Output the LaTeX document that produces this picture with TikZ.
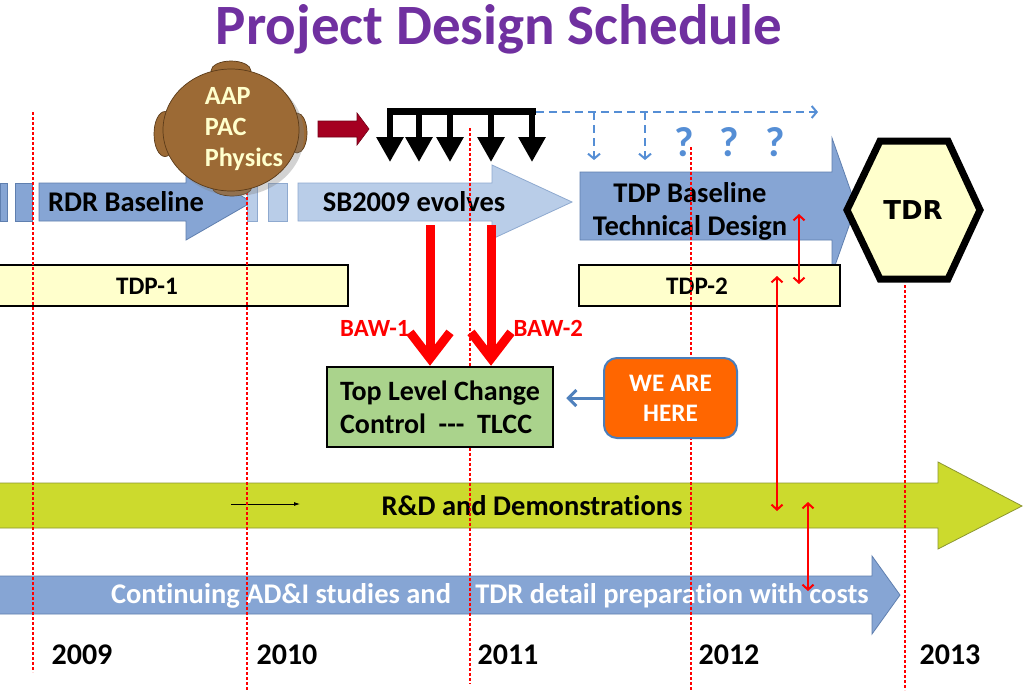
\documentclass[tikz,border=0pt]{standalone}
\usepackage{fontspec}
\setmainfont{Carlito}[Ligatures=NoCommon]
\newfontfamily\tdrfont{DejaVu Sans}
\usetikzlibrary{arrows.meta,shadows,shapes.geometric}
\definecolor{titlepurple}{HTML}{7030A0}
\definecolor{arrowblue}{HTML}{86A5D4}
\definecolor{arrowblueline}{HTML}{5F7FAF}
\definecolor{arrowlight}{HTML}{B9CDE8}
\definecolor{arrowlightline}{HTML}{8EA9CF}
\definecolor{rdgreen}{HTML}{CCDA2D}
\definecolor{rdgreenline}{HTML}{8C9630}
\definecolor{paleyellow}{HTML}{FFFFCC}
\definecolor{tlccgreen}{HTML}{AAD38C}
\definecolor{hereorange}{HTML}{FF6600}
\definecolor{hereline}{HTML}{4A7EBB}
\definecolor{pointblue}{HTML}{4F81BD}
\definecolor{qblue}{HTML}{558ED5}
\definecolor{headbrown}{HTML}{9C6A35}
\definecolor{headline}{HTML}{5A3A18}
\definecolor{darkred}{HTML}{A50021}
\begin{document}
\begin{tikzpicture}[x=1pt,y=-1pt,
  bigfont/.style={font=\bfseries\fontsize{28.5}{34}\selectfont},
  darkarrow/.style={fill=arrowblue,draw=arrowblueline,line width=0.8pt},
  lightarrow/.style={fill=arrowlight,draw=arrowlightline,line width=0.8pt},
  greenarrow/.style={fill=rdgreen,draw=rdgreenline,line width=0.8pt},
  yearline/.style={color=red,line width=1.1pt,dash pattern=on 3pt off 2pt},
  tdpbox/.style={draw=black,line width=2pt,fill=paleyellow},
  yearlabel/.style={font=\bfseries\fontsize{30}{34}\selectfont},
  bawarrow/.style={red,line width=9pt,-{Straight Barb[length=26pt,width=40pt]}},
  bawlabel/.style={red,font=\bfseries\fontsize{24.7}{28}\selectfont},
  redlink/.style={red,line width=2pt,{Straight Barb[length=5pt,width=11pt]}-{Straight Barb[length=5pt,width=11pt]}},
  combstem/.style={black,line width=6pt,-{Triangle[length=25pt,width=26pt]}},
  qdash/.style={qblue,line width=2pt,dash pattern=on 8pt off 5pt},
  qmark/.style={qblue,font=\bfseries\fontsize{42}{46}\selectfont},
  ear/.style={ellipse,fill=headbrown,draw=headline,line width=0.7pt,inner sep=0pt}
]
\useasboundingbox (0,0) rectangle (1024,694);
\fill[white] (0,0) rectangle (1024,694);

% title
\node[anchor=base,text=titlepurple,font=\bfseries\fontsize{57}{64}\selectfont] (title) at (499,44) {Project Design Schedule};

% big arrows
\filldraw[darkarrow] (0,183) rectangle (7,221);
\filldraw[darkarrow] (15,183) rectangle (32,221);
\filldraw[darkarrow] (39,183) -- (186,183) -- (186,164) -- (252,202) -- (186,240) -- (186,221) -- (39,221) -- cycle;
\filldraw[lightarrow] (247,183) rectangle (257,221);
\filldraw[lightarrow] (268,183) rectangle (287,221);
\filldraw[lightarrow] (298,183) -- (492,183) -- (492,165) -- (572,202) -- (492,239) -- (492,221) -- (298,221) -- cycle;
\filldraw[darkarrow] (580,172) -- (832,172) -- (832,138) -- (856,206) -- (832,274) -- (832,240) -- (580,240) -- cycle;
\filldraw[greenarrow] (-2,483) -- (938,483) -- (938,462) -- (1022,506) -- (938,549) -- (938,528) -- (-2,528) -- cycle;
\filldraw[darkarrow] (-2,576) -- (872,576) -- (872,556) -- (900,595) -- (872,634) -- (872,614) -- (-2,614) -- cycle;

\node[bigfont] (rdr) at (126,202) {RDR Baseline};
\node[bigfont] (sb) at (414,202) {SB2009 evolves};
\node[align=center,font=\bfseries\fontsize{28.5}{33}\selectfont] (tdpb) at (690,211) {TDP Baseline\\Technical Design};
\node[bigfont] (rd) at (532,506) {R\&D and Demonstrations};
\node[text=white,font=\bfseries\fontsize{28.5}{34}\selectfont] (cont1) at (281,596) {Continuing AD\&I studies and};
\node[text=white,font=\bfseries\fontsize{28.5}{34}\selectfont] (cont2) at (672,596) {TDR detail preparation with costs};

% small arrow in R&D bar
\coordinate (sa1) at (231,504);
\coordinate (sa2) at (300,504);
\draw[black,line width=0.8pt,-{Latex[length=6pt,width=4pt]}] (sa1) -- (sa2);

% TDP boxes
\node[tdpbox,minimum width=350,minimum height=41,inner sep=0pt] (tdp1box) at (173,285.5) {};
\node[font=\bfseries\fontsize{25.2}{28}\selectfont] (tdp1) at (147,286) {TDP-1};
\node[tdpbox,minimum width=261,minimum height=41,inner sep=0pt] (tdp2box) at (709.5,285.5) {};
\node[font=\bfseries\fontsize{25.2}{28}\selectfont] (tdp2) at (697,286) {TDP-2};

% year lines
\draw[yearline] (33,112) -- (33,672);
\draw[yearline] (247,112) -- (247,690);
\draw[yearline] (470,128) -- (470,684);
\draw[yearline] (691,147) -- (691,690);
\draw[yearline] (905,285) -- (905,690);

% years
\node[yearlabel] (y2009) at (82,655) {2009};
\node[yearlabel] (y2010) at (287,655) {2010};
\node[yearlabel] (y2011) at (508,655) {2011};
\node[yearlabel] (y2012) at (729,655) {2012};
\node[yearlabel] (y2013) at (950,655) {2013};

% TLCC box
\node[draw=black,line width=2.5pt,fill=tlccgreen,minimum width=226,minimum height=80,align=left,inner sep=0pt,font=\bfseries\fontsize{28}{33}\selectfont] (tlcc) at (440,407) {Top Level Change\\Control\ \ -{}-{}-\ \ TLCC};

% WE ARE HERE
\node[draw=hereline,line width=2pt,fill=hereorange,rounded corners=13pt,minimum width=133,minimum height=80,align=center,text=white,font=\bfseries\fontsize{25.2}{30}\selectfont] (here) at (670.5,398) {WE ARE\\HERE};
\draw[pointblue,line width=3pt,shorten >=12pt,-{Straight Barb[length=8pt,width=16pt]}] (here.west) -- (here.west -| tlcc.east);

% BAW arrows
\coordinate (baw1s) at (430,225);
\coordinate (baw2s) at (491,225);
\draw[bawarrow] (baw1s) -- (baw1s |- tlcc.north);
\draw[bawarrow] (baw2s) -- (baw2s |- tlcc.north);
\node[bawlabel,anchor=east] (baw1) at (413,328) {BAW-1};
\node[bawlabel,anchor=west] (baw2) at (510,328) {BAW-2};

% red thin links
\coordinate (la1) at (799,214);
\coordinate (la2) at (799,284);
\coordinate (lb1) at (777,276);
\coordinate (lb2) at (777,511);
\coordinate (lc1) at (808,502);
\coordinate (lc2) at (808,591);
\draw[redlink] (la1) -- (la2);
\draw[redlink] (lb1) -- (lb2);
\draw[redlink] (lc1) -- (lc2);

% head with ears
\node[ear,minimum width=40,minimum height=20] (eartop) at (231,71) {};
\node[ear,minimum width=40,minimum height=18] (earbot) at (232,187) {};
\node[ear,minimum width=22,minimum height=45] (earleft) at (165,134) {};
\node[ear,minimum width=20,minimum height=40] (earright) at (297,133) {};
\node[ellipse,fill=headbrown,draw=headline,line width=0.7pt,minimum width=136,minimum height=122,inner sep=0pt,drop shadow={opacity=0.35,shadow xshift=5pt,shadow yshift=-5pt}] (head) at (231,130) {};
\node[align=left,text=paleyellow,font=\bfseries\fontsize{26.3}{31}\selectfont] (headtext) at (244,129) {AAP\\PAC\\Physics};

% dark red arrow
\filldraw[fill=darkred,draw=darkred!70!black,line width=0.6pt] (318,121) -- (357,121) -- (357,113) -- (369,129) -- (357,145) -- (357,137) -- (318,137) -- cycle;

% black comb
\draw[black,line width=7pt] (387,111) -- (536,111);
\coordinate (c1) at (390,108);
\coordinate (c2) at (419,108);
\coordinate (c3) at (450,108);
\coordinate (c4) at (491,108);
\coordinate (c5) at (532,108);
\foreach \c in {c1,c2,c3,c4,c5} \draw[combstem] (\c) -- ++(0,54);

% blue dashed future
\coordinate (q0) at (536,112);
\coordinate (q1) at (818,112);
\draw[qdash,-{Straight Barb[length=5pt,width=12pt]}] (q0) -- (q1);
\draw[qdash,-{Straight Barb[length=5pt,width=12pt]}] (594,112) -- (594,160);
\draw[qdash,-{Straight Barb[length=5pt,width=12pt]}] (645,112) -- (645,160);
\node[qmark] (qa) at (684,142) {?};
\node[qmark] (qb) at (729,142) {?};
\node[qmark] (qc) at (775,142) {?};

% TDR hexagon
\filldraw[fill=paleyellow,draw=black,line width=7pt,line join=miter] (847,210) -- (880,141) -- (948,141) -- (980,210) -- (948,279) -- (880,279) -- cycle;
\node[font=\tdrfont\bfseries\fontsize{26}{30}\selectfont] (tdr) at (913,210) {TDR};
\end{tikzpicture}
\end{document}
